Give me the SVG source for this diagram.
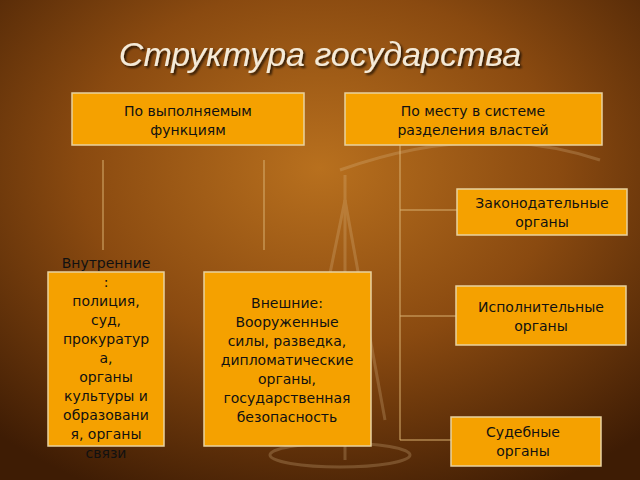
<svg xmlns="http://www.w3.org/2000/svg" width="640" height="480" viewBox="0 0 640 480">
<defs>
<radialGradient id="bg" cx="0.5" cy="0.35" r="0.75">
<stop offset="0" stop-color="#b8701e"/>
<stop offset="0.5" stop-color="#8a4a10"/>
<stop offset="1" stop-color="#3e1c04"/>
</radialGradient>
<filter id="sh"><feDropShadow dx="2" dy="2" stdDeviation="1" flood-color="#000" flood-opacity="0.7"/></filter>
</defs>
<style>
.box{fill:#f5a100;stroke:#e8d2a0;stroke-width:1.5}
.t{font-family:"DejaVu Sans","Noto Sans",sans-serif;font-size:14px;fill:#111;text-anchor:middle}
.c{stroke:#d8b070;stroke-width:1;fill:none}
</style>
<rect width="640" height="480" fill="url(#bg)"/>
<g opacity="0.25" stroke="#e0c090" fill="none" stroke-width="3">
<line x1="345" y1="175" x2="345" y2="460"/>
<path d="M340 170 Q480 120 600 160"/>
<line x1="345" y1="200" x2="300" y2="420"/>
<line x1="345" y1="200" x2="385" y2="420"/>
<ellipse cx="340" cy="455" rx="70" ry="12"/>
</g>
<text x="320" y="66" font-family="Liberation Sans,sans-serif" font-style="italic" font-size="34" fill="#f4ead8" text-anchor="middle" filter="url(#sh)">Структура государства</text>
<g id="connectors">
<line class="c" x1="103" y1="160" x2="103" y2="250"/>
<line class="c" x1="264" y1="160" x2="264" y2="250"/>
<line class="c" x1="400" y1="145" x2="400" y2="440"/>
<line class="c" x1="400" y1="210" x2="457" y2="210"/>
<line class="c" x1="400" y1="316" x2="456" y2="316"/>
<line class="c" x1="400" y1="440" x2="451" y2="440"/>
</g>
<g id="n1"><rect class="box" x="72" y="93" width="232" height="52"/><text class="t" x="188" y="116">По выполняемым</text><text class="t" x="188" y="135">функциям</text></g>
<g id="n2"><rect class="box" x="345" y="93" width="257" height="52"/><text class="t" x="473" y="116">По месту в системе</text><text class="t" x="473" y="135">разделения властей</text></g>
<g id="n3"><rect class="box" x="457" y="189" width="170" height="46"/><text class="t" x="542" y="208">Законодательные</text><text class="t" x="542" y="227">органы</text></g>
<g id="n4"><rect class="box" x="456" y="286" width="170" height="59"/><text class="t" x="541" y="312">Исполнительные</text><text class="t" x="541" y="331">органы</text></g>
<g id="n5"><rect class="box" x="451" y="417" width="150" height="49"/><text class="t" x="523" y="437">Судебные</text><text class="t" x="523" y="456">органы</text></g>
<g id="n6"><rect class="box" x="48" y="272" width="116" height="174"/>
<text class="t" x="106" y="268">Внутренние</text><text class="t" x="106" y="287">:</text><text class="t" x="106" y="306">полиция,</text><text class="t" x="106" y="325">суд,</text><text class="t" x="106" y="344">прокуратур</text><text class="t" x="106" y="363">а,</text><text class="t" x="106" y="382">органы</text><text class="t" x="106" y="401">культуры и</text><text class="t" x="106" y="420">образовани</text><text class="t" x="106" y="439">я, органы</text><text class="t" x="106" y="458">связи</text></g>
<g id="n7"><rect class="box" x="204" y="272" width="167" height="174"/>
<text class="t" x="287" y="308">Внешние:</text><text class="t" x="287" y="327">Вооруженные</text><text class="t" x="287" y="346">силы, разведка,</text><text class="t" x="287" y="365">дипломатические</text><text class="t" x="287" y="384">органы,</text><text class="t" x="287" y="403">государственная</text><text class="t" x="287" y="422">безопасность</text></g>
</svg>
